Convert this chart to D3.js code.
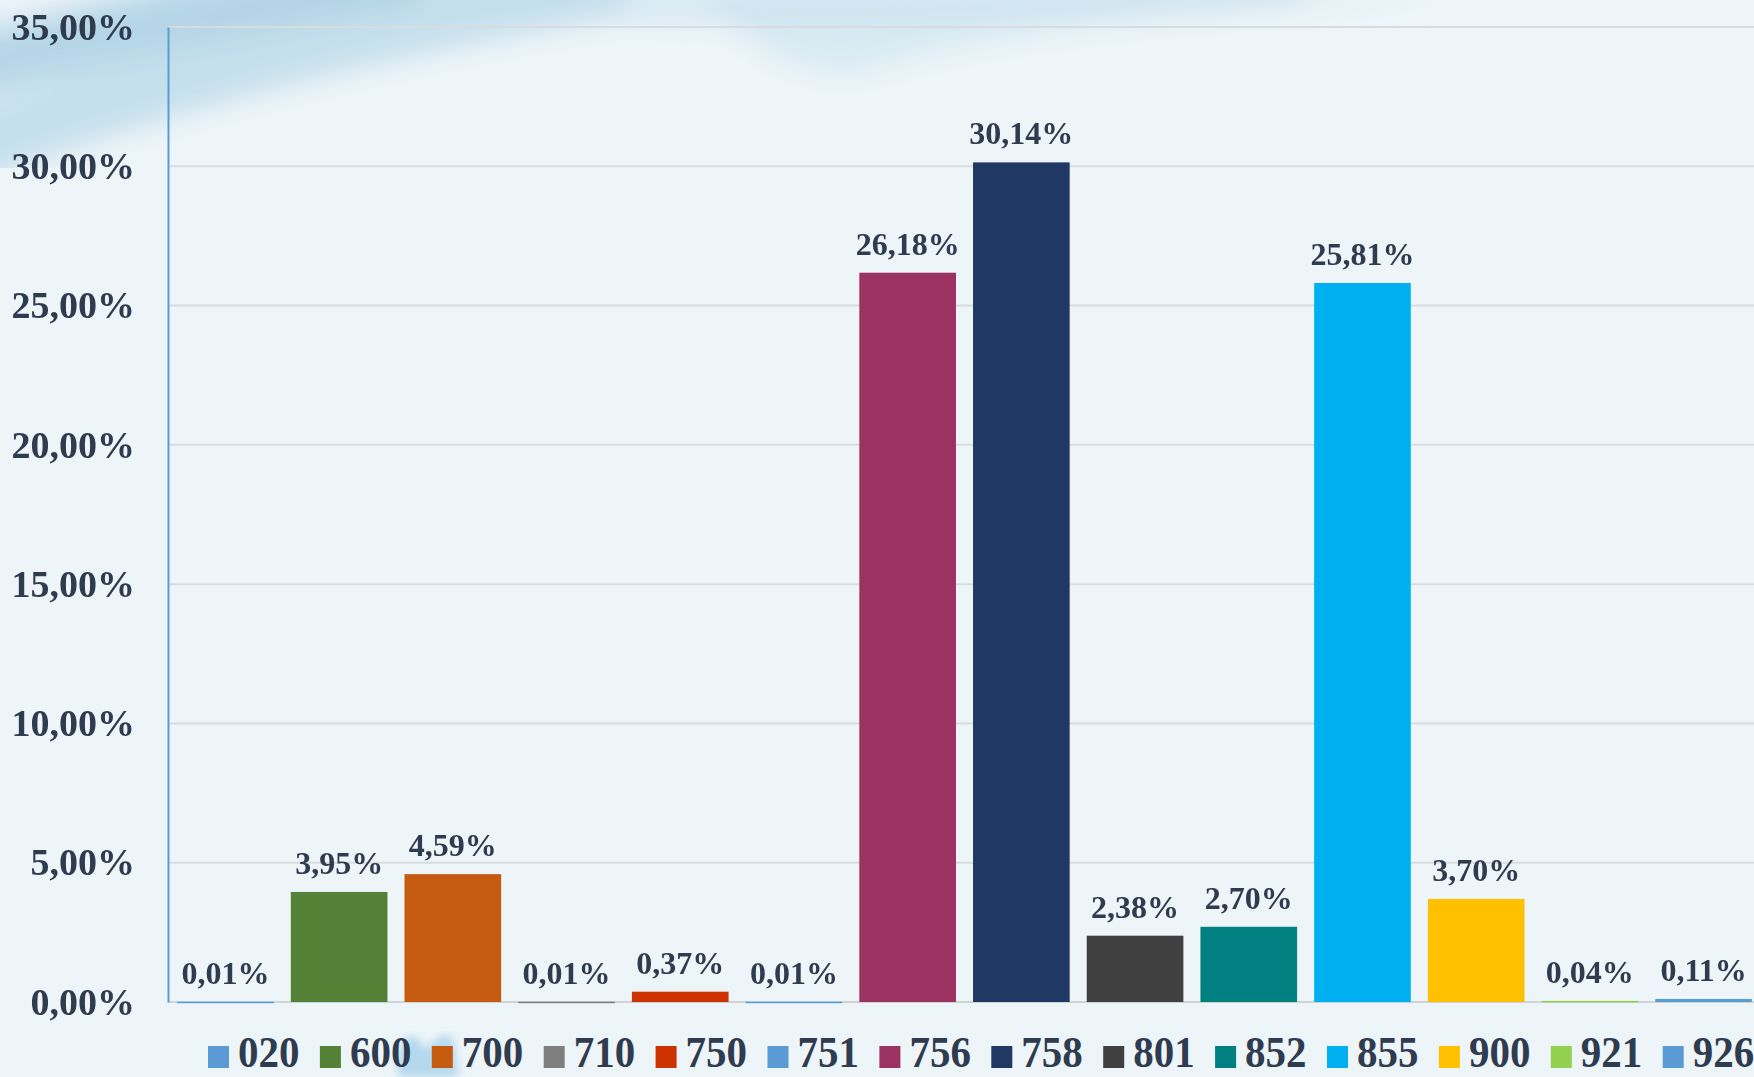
<!DOCTYPE html>
<html>
<head>
<meta charset="utf-8">
<script src="https://cdn.jsdelivr.net/npm/d3@7"></script>
<style>
  html, body { margin: 0; padding: 0; background: #eef5f9; }
  svg { display: block; }
  text { font-family: "Liberation Serif", "Times New Roman", serif; font-weight: bold; fill: #2f3b4e; }
</style>
</head>
<body>
<div id="chart"></div>
<script>
// categories (codes) and their share in percent
const codes = ["020", "600", "700", "710", "750", "751", "756", "758", "801", "852", "855", "900", "921", "926"];
const shares = [0.01, 3.95, 4.59, 0.01, 0.37, 0.01, 26.18, 30.14, 2.38, 2.70, 25.81, 3.70, 0.04, 0.11];
const barColors = ["#5b9bd5", "#538135", "#c55a11", "#7f7f7f", "#cc3300", "#5b9bd5", "#9b3262",
                   "#203864", "#404040", "#008080", "#00b0f0", "#ffc000", "#92d050", "#5b9bd5"];
const yTicks = [0, 5, 10, 15, 20, 25, 30, 35];

const width = 1754, height = 1077;
const margin = {top: 27, right: -7, bottom: 75, left: 168};

const fmt = v => d3.format(".2f")(v).replace(".", ",") + "%";

const svg = d3.select("#chart")
    .append("svg")
    .attr("width", width)
    .attr("height", height);

// soft background with faint blue waves in the top-left corner
const defs = svg.append("defs");
defs.append("filter").attr("id", "blur")
    .append("feGaussianBlur").attr("stdDeviation", 14);
defs.append("filter").attr("id", "blurSmall")
    .append("feGaussianBlur").attr("stdDeviation", 4);

svg.append("rect").attr("width", width).attr("height", height).attr("fill", "#edf5f9");

const waves = svg.append("g").attr("filter", "url(#blur)");
waves.append("path")
    .attr("d", "M-40,150 C120,90 320,30 620,-20")
    .attr("fill", "none").attr("stroke", "#b3d5e7").attr("stroke-width", 70).attr("opacity", 0.7);
waves.append("path")
    .attr("d", "M-40,70 C100,30 250,0 420,-30")
    .attr("fill", "none").attr("stroke", "#a7cde2").attr("stroke-width", 60).attr("opacity", 0.8);
waves.append("path")
    .attr("d", "M700,-10 C760,60 820,90 900,60 C1050,20 1250,10 1450,-10 Z")
    .attr("fill", "#cfe5f0").attr("opacity", 0.7);
waves.append("path")
    .attr("d", "M450,-10 C700,20 1000,0 1300,-10")
    .attr("fill", "none").attr("stroke", "#c3deec").attr("stroke-width", 30).attr("opacity", 0.6);

// small light blue splash behind the legend
svg.append("path")
    .attr("d", "M398,1077 C396,1055 400,1040 410,1036 C418,1034 420,1046 428,1048 C434,1040 440,1034 450,1036 C458,1044 454,1062 460,1077 Z")
    .attr("fill", "#a9d2ea").attr("opacity", 0.8)
    .attr("filter", "url(#blurSmall)");

const x = d3.scaleBand()
    .domain(codes)
    .range([margin.left, width - margin.right])
    .paddingInner(0.15)
    .paddingOuter(0.08);

const y = d3.scaleLinear()
    .domain([0, 35])
    .range([height - margin.bottom, margin.top]);

// gridlines
svg.append("g")
    .selectAll("line")
    .data(yTicks)
    .enter()
    .append("line")
    .attr("x1", margin.left)
    .attr("x2", width)
    .attr("y1", d => y(d))
    .attr("y2", d => y(d))
    .attr("stroke", d => d === 0 ? "#cfd3d6" : "#d9dcde")
    .attr("stroke-width", 2);

// y axis
const yAxis = d3.axisLeft(y).tickValues(yTicks).tickFormat(fmt).tickSize(0).tickPadding(33);
const yg = svg.append("g")
    .attr("transform", `translate(${margin.left},0)`)
    .call(yAxis);
yg.select(".domain").attr("stroke", "#5b9bd5").attr("stroke-width", 2);
yg.selectAll("text")
    .style("font-size", "38px")
    .style("font-family", "'Liberation Serif', 'Times New Roman', serif")
    .style("font-weight", "bold")
    .attr("fill", "#2f3b4e");

// bars
svg.append("g")
    .selectAll("rect")
    .data(codes)
    .enter()
    .append("rect")
    .attr("x", d => x(d))
    .attr("y", (d, i) => y(shares[i]))
    .attr("width", x.bandwidth())
    .attr("height", (d, i) => Math.max(y(0) - y(shares[i]), 1.5))
    .attr("fill", (d, i) => barColors[i]);

// value labels
svg.append("g")
    .selectAll("text")
    .data(codes)
    .enter()
    .append("text")
    .attr("x", d => x(d) + x.bandwidth() / 2)
    .attr("y", (d, i) => y(shares[i]) - 18)
    .attr("text-anchor", "middle")
    .style("font-size", "32px")
    .text((d, i) => fmt(shares[i]));

// legend
const legendStep = 111.9;
const legend = svg.append("g")
    .selectAll("g")
    .data(codes)
    .enter()
    .append("g")
    .attr("transform", (d, i) => `translate(${208 + i * legendStep},0)`);

legend.append("rect")
    .attr("x", 0)
    .attr("y", 1046)
    .attr("width", 21)
    .attr("height", 22)
    .attr("fill", (d, i) => barColors[i]);

legend.append("text")
    .attr("transform", "translate(30,1067) scale(1,1.1)")
    .style("font-size", "41px")
    .text(d => d);
</script>
</body>
</html>
